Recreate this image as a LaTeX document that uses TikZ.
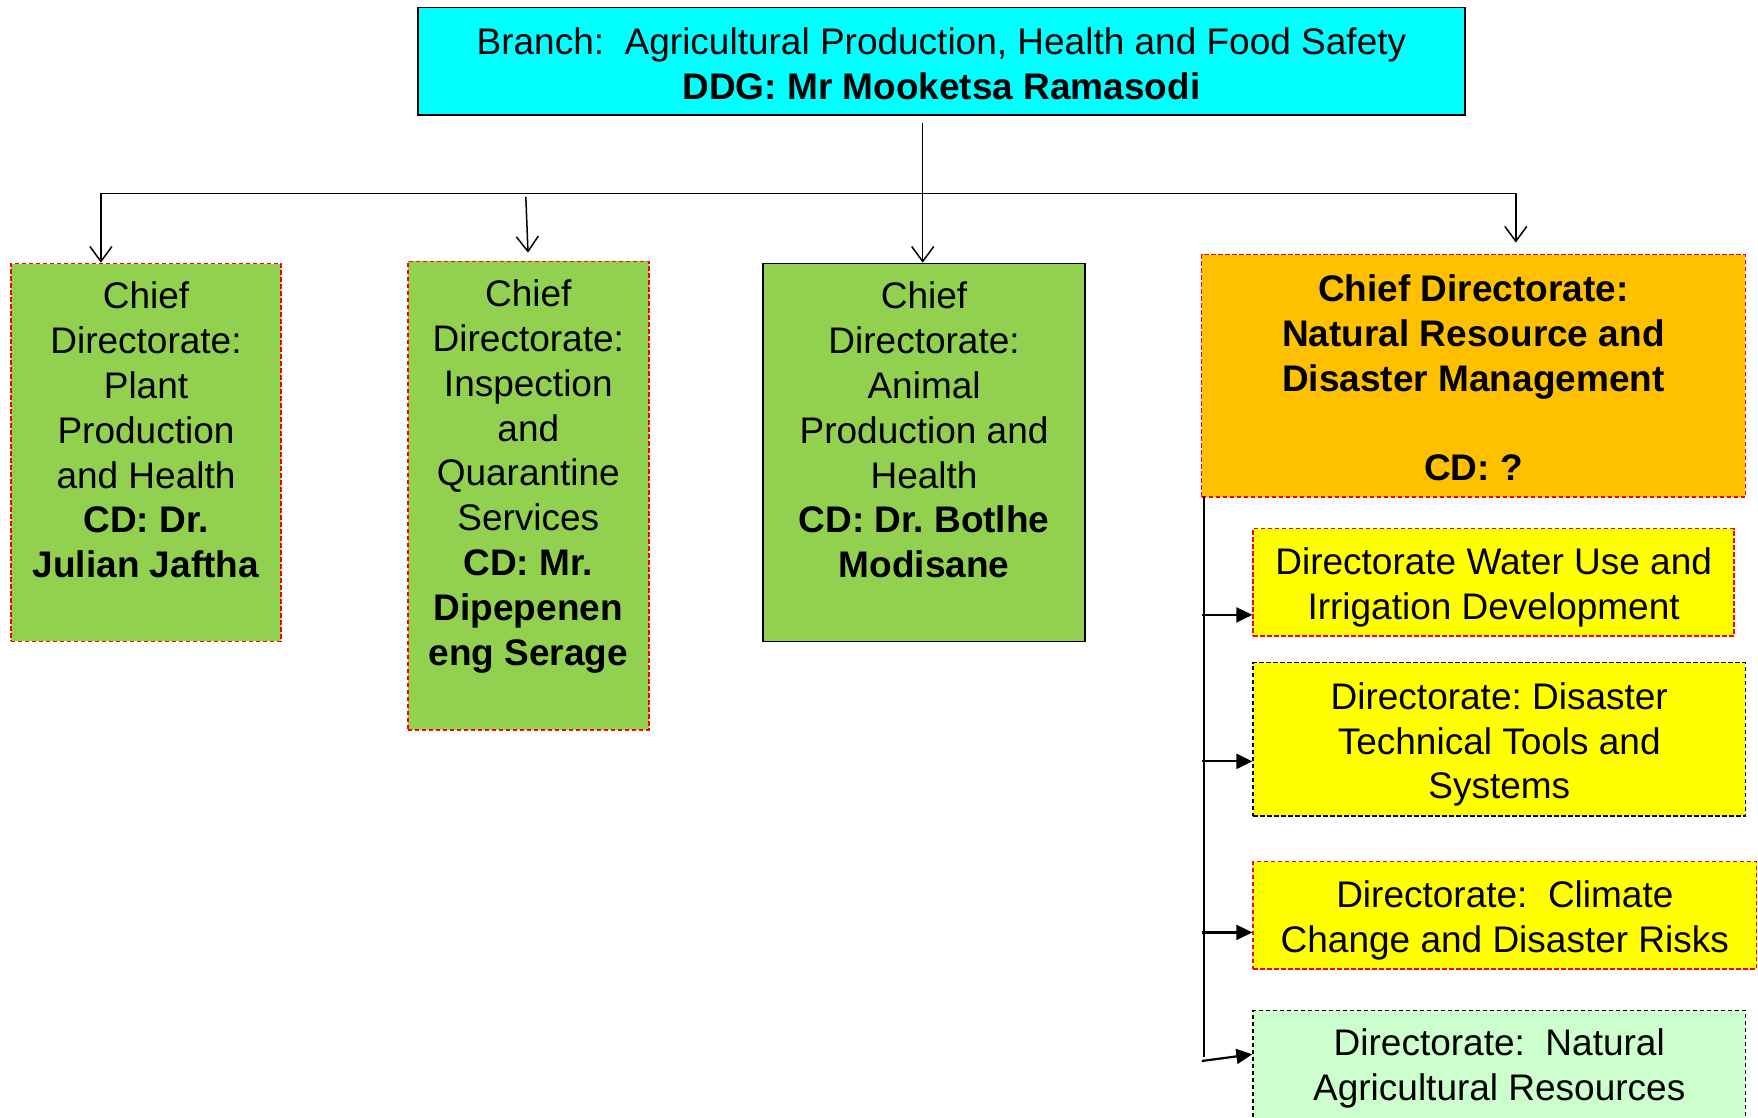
\documentclass[tikz,border=0pt]{standalone}
\usepackage{fontspec}
\setmainfont{Liberation Sans}
\usetikzlibrary{arrows.meta,calc}
\definecolor{topcyan}{HTML}{00FFFF}
\definecolor{cdgreen}{HTML}{92D050}
\definecolor{cdorange}{HTML}{FFC000}
\definecolor{dyellow}{HTML}{FFFF00}
\definecolor{dlgreen}{HTML}{CCFFCC}
\newlength\xu \setlength\xu{0.5606pt}
\newlength\yu \setlength\yu{0.559pt}
\newcommand\fs{\fontsize{18.5}{22.4}\selectfont\frenchspacing}
\newcommand{\cbox}[3]{\parbox[t][#1][c]{#2}{\centering\strut #3}}
\newcommand{\dbox}[3]{\parbox[t][#1][c]{#2}{\vspace*{3pt}\centering\strut #3}}
\newcommand{\tbox}[3]{\parbox[t][#1][t]{#2}{\vspace*{7pt}\centering\strut #3}}
\begin{document}
\frenchspacing
\begin{tikzpicture}[x=0.5606pt,y=-0.559pt,
  box/.style={inner sep=0pt, anchor=north west, font=\fs, line width=0.8pt},
  reddash/.style={draw=red, dash pattern=on 2.2pt off 1.3pt},
  blackdash/.style={draw=black, dash pattern=on 2.2pt off 1.3pt},
  solidbox/.style={draw=black},
  conn/.style={draw=black, line width=0.75pt},
  rconn/.style={draw=black, line width=1.1pt},
  openarr/.style={conn, -{Straight Barb[length=7.5pt,width=11pt]}},
  fillarr/.style={rconn, -{Triangle[length=8pt,width=7.5pt]}}]
\useasboundingbox (0,0) rectangle (1568,1000);
\clip (0,0) rectangle (1568,1000);

\node[box, solidbox, fill=topcyan] (branch) at (372,6)
  {\cbox{96\yu}{934\xu}{Branch:\ \ Agricultural Production, Health and Food Safety\\\textbf{DDG: Mr Mooketsa Ramasodi}}};

\node[box, reddash, fill=cdgreen] (cd1) at (9,235)
  {\tbox{338\yu}{241\xu}{Chief\\Directorate:\\Plant\\Production\\and Health\\\textbf{CD: Dr.}\\\textbf{Julian Jaftha}}};

\node[box, reddash, fill=cdgreen] (cd2) at (363,233)
  {\tbox{419\yu}{215\xu}{Chief\\Directorate:\\Inspection\\and\\Quarantine\\Services\\\textbf{CD: Mr.}\\\textbf{Dipepenen}\\\textbf{eng Serage}}};

\node[box, solidbox, fill=cdgreen] (cd3) at (680,235)
  {\tbox{338\yu}{287\xu}{Chief\\Directorate:\\Animal\\Production and\\Health\\\textbf{CD: Dr. Botlhe}\\\textbf{Modisane}}};

\node[box, reddash, fill=cdorange] (cd4) at (1071,227)
  {\cbox{217\yu}{485\xu}{\textbf{Chief Directorate:}\\\textbf{Natural Resource and}\\\textbf{Disaster Management}\\\mbox{}\\\textbf{CD: ?}}};

\node[box, reddash, fill=dyellow] (d1) at (1117,472)
  {\dbox{96\yu}{429\xu}{Directorate Water Use and\\Irrigation Development}};

\node[box, blackdash, fill=dyellow] (d2) at (1117,592)
  {\dbox{137\yu}{439\xu}{Directorate: Disaster\\Technical Tools and\\Systems}};

\node[box, reddash, fill=dyellow] (d3) at (1117,770)
  {\dbox{96\yu}{449\xu}{Directorate:\ \ Climate\\Change and Disaster Risks}};

\node[box, blackdash, fill=dlgreen] (d4) at (1117,903)
  {\tbox{130\yu}{439\xu}{Directorate:\ \ Natural\\Agricultural Resources}};

% top connectors
\coordinate (trunk) at (823,110);
\coordinate (busL) at (90,173);
\coordinate (busR) at (1352,173);
\coordinate (b2start) at (469,176);
\draw[conn] (busL) -- (busR);
\draw[openarr] (trunk) -- (trunk |- cd3.north);
\draw[openarr] (busL) -- (busL |- cd1.north);
\draw[openarr, shorten >=5.6pt] (busR) -- (busR |- cd4.north);
\draw[openarr, shorten >=3.9pt] (b2start) -- (cd2.north);

% right spine
\coordinate (spT) at (1074,444);
\coordinate (spB) at (1074,945);
\draw[rconn] (spT) -- (spB);
\coordinate (a1) at (1072,550);
\coordinate (a2) at (1072,681);
\coordinate (a3) at (1072,834);
\coordinate (a4) at (1072,949);
\draw[fillarr] (a1) -- (a1 -| d1.west);
\draw[fillarr] (a2) -- (a2 -| d2.west);
\draw[fillarr] (a3) -- (a3 -| d3.west);
\draw[fillarr] (a4) -- ($(d4.north west)+(0,40)$);
\end{tikzpicture}
\end{document}
